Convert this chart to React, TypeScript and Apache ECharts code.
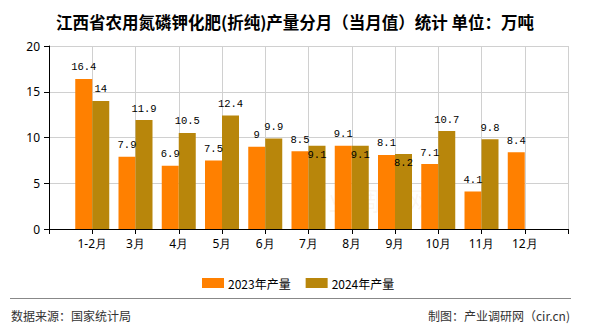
import React, { useEffect, useRef } from "react";
import * as echarts from "echarts";

const months = ["1-2月", "3月", "4月", "5月", "6月", "7月", "8月", "9月", "10月", "11月", "12月"];
const values2023 = [16.4, 7.9, 6.9, 7.5, 9, 8.5, 9.1, 8.1, 7.1, 4.1, 8.4];
const values2024: (number | null)[] = [14, 11.9, 10.5, 12.4, 9.9, 9.1, 9.1, 8.2, 10.7, 9.8, null];
const insideLabel2024 = ["7月", "8月", "9月"];
const yTicks = [0, 5, 10, 15, 20];

const title = "江西省农用氮磷钾化肥(折纯)产量分月（当月值）统计 单位：万吨";
const sourceText = "数据来源：国家统计局";
const makerText = "制图：产业调研网（cir.cn)";

export default function App() {
  const ref = useRef<HTMLDivElement>(null);
  useEffect(() => {
    if (!ref.current) return;
    const chart = echarts.init(ref.current, undefined, { renderer: "svg" });
    const cats = ["", ...months, ""];
    const labelFont = { fontFamily: "Liberation Mono", fontSize: 10.5, color: "#000" };
    const d2023 = ["-", ...values2023.map((v) => v), "-"];
    const d2024 = [
      "-",
      ...values2024.map((v, i) =>
        v == null
          ? "-"
          : insideLabel2024.includes(months[i])
          ? { value: v, label: { position: "insideTop", distance: 4 } }
          : v
      ),
      "-",
    ];
    chart.setOption({
      animation: false,
      title: {
        text: title,
        left: "center",
        top: 9,
        textStyle: { fontSize: 16.5, fontWeight: "bold", color: "#000", fontFamily: "Noto Sans CJK SC" },
      },
      legend: {
        left: 197,
        top: 272,
        itemWidth: 22,
        itemHeight: 10,
        itemGap: 15,
        icon: "rect",
        textStyle: { fontSize: 12, color: "#000", fontFamily: "Noto Sans CJK SC", padding: [0, 0, 0, -1] },
        data: ["2023年产量", "2024年产量"],
      },
      grid: { left: 49, right: 22, top: 46, bottom: 101, containLabel: false },
      xAxis: {
        type: "category",
        data: cats,
        boundaryGap: false,
        axisLine: { lineStyle: { color: "#000", width: 1 } },
        axisTick: { show: true, length: 5, interval: 0, lineStyle: { color: "#000" } },
        axisLabel: { interval: 0, margin: 8, fontSize: 12, color: "#000", fontFamily: "Noto Sans" },
        splitLine: { show: true, interval: 0, lineStyle: { color: "#d0d0d0" } },
      },
      yAxis: {
        type: "value",
        min: yTicks[0],
        max: yTicks[yTicks.length - 1],
        interval: 5,
        axisLine: { show: true, lineStyle: { color: "#000" } },
        axisTick: { show: true, length: 5, lineStyle: { color: "#000" } },
        axisLabel: { margin: 9, fontSize: 12, color: "#000", fontFamily: "Noto Sans" },
        splitLine: { show: true, lineStyle: { color: "#d0d0d0" } },
      },
      series: [
        {
          name: "2023年产量",
          type: "bar",
          data: d2023,
          barWidth: 17,
          barGap: "0%",
          itemStyle: { color: "#FF8000" },
          label: { show: true, position: "top", distance: 6, ...labelFont },
        },
        {
          name: "2024年产量",
          type: "bar",
          data: d2024,
          barWidth: 17,
          barGap: "0%",
          itemStyle: { color: "#B8860B" },
          label: { show: true, position: "top", distance: 6, ...labelFont },
        },
      ],
      graphic: [
        {
          type: "text",
          left: 302,
          top: 186,
          silent: true,
          style: { text: "产业调研网", fontSize: 26, fill: "rgba(200,120,40,0.07)", fontFamily: "Noto Sans CJK SC" },
        },
        {
          type: "line",
          shape: { x1: 10, y1: 298.5, x2: 571, y2: 298.5 },
          style: { stroke: "#888", lineWidth: 1 },
        },
        {
          type: "text",
          left: 11,
          top: 309,
          style: { text: sourceText, fontSize: 12, fill: "#333", fontFamily: "Noto Sans CJK SC" },
        },
        {
          type: "text",
          right: 20,
          top: 309,
          style: { text: makerText, fontSize: 12, fill: "#333", fontFamily: "Noto Sans CJK SC" },
        },
      ],
    });
    return () => chart.dispose();
  }, []);
  return <div ref={ref} style={{ position: "absolute", left: 0, top: 0, width: 590, height: 330 }} />;
}
